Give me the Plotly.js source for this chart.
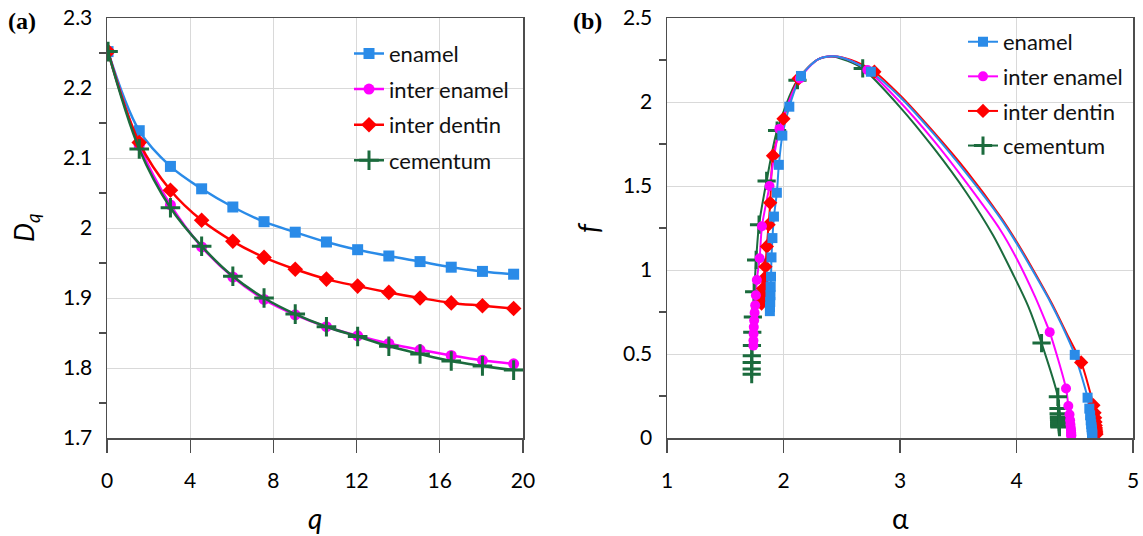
<!DOCTYPE html>
<html><head><meta charset="utf-8">
<script src="https://cdn.plot.ly/plotly-3.0.1.min.js"></script>
<style>html,body{margin:0;padding:0;background:#fff}#chart{width:1143px;height:536px}</style>
</head><body><div id="chart"></div>
<script>
// ---------- data: panel (a) generalized dimensions ----------
const seriesNames = ['enamel', 'inter enamel', 'inter dentin', 'cementum'];
const q = [0.05, 1.55, 3.05, 4.55, 6.05, 7.55, 9.05, 10.55, 12.05, 13.55, 15.05, 16.55, 18.05, 19.55];
const enamelDq      = [2.252, 2.139, 2.088, 2.056, 2.030, 2.009, 1.994, 1.980, 1.969, 1.960, 1.952, 1.944, 1.938, 1.934];
const interEnamelDq = [2.252, 2.118, 2.033, 1.973, 1.930, 1.898, 1.876, 1.859, 1.846, 1.835, 1.826, 1.818, 1.811, 1.806];
const interDentinDq = [2.252, 2.122, 2.054, 2.011, 1.981, 1.958, 1.941, 1.927, 1.917, 1.908, 1.900, 1.893, 1.889, 1.885];
const cementumDq    = [2.252, 2.113, 2.029, 1.974, 1.931, 1.900, 1.877, 1.859, 1.845, 1.831, 1.820, 1.810, 1.803, 1.797];

// ---------- data: panel (b) multifractal spectra (marker points) ----------
const enamelAlpha = [1.883,1.884,1.886,1.888,1.890,1.893,1.897,1.905,1.918,1.943,1.960,1.990,2.050,2.150,2.750,4.500,4.610,4.625,4.632,4.637,4.641,4.644,4.646,4.648,4.649,4.650,4.650];
const enamelF     = [0.755,0.780,0.810,0.850,0.900,0.960,1.075,1.190,1.318,1.460,1.626,1.800,1.972,2.155,2.180,0.495,0.240,0.175,0.135,0.105,0.082,0.064,0.050,0.039,0.030,0.023,0.017];
const interEnamelAlpha = [1.741,1.742,1.743,1.745,1.748,1.752,1.757,1.763,1.771,1.795,1.815,1.880,1.965,2.140,2.720,4.285,4.425,4.445,4.455,4.460,4.463,4.466,4.468,4.469,4.470,4.470,4.470];
const interEnamelF     = [0.550,0.580,0.620,0.660,0.700,0.745,0.790,0.850,0.940,1.070,1.260,1.500,1.840,2.140,2.190,0.630,0.295,0.190,0.140,0.105,0.080,0.060,0.045,0.033,0.024,0.017,0.012];
const interDentinAlpha = [1.812,1.815,1.820,1.825,1.835,1.845,1.857,1.872,1.886,1.910,2.000,2.130,2.780,4.555,4.660,4.670,4.675,4.678,4.680,4.682,4.683,4.684,4.685,4.686];
const interDentinF     = [0.800,0.825,0.855,0.890,0.950,1.020,1.140,1.270,1.400,1.680,1.900,2.140,2.180,0.450,0.195,0.150,0.120,0.095,0.075,0.060,0.047,0.037,0.030,0.023];
const cementumAlpha = [1.727,1.727,1.727,1.728,1.729,1.732,1.737,1.748,1.765,1.790,1.855,1.945,2.120,2.680,4.215,4.355,4.360,4.362,4.364,4.365,4.366,4.367,4.368,4.368,4.369,4.369];
const cementumF     = [0.380,0.410,0.450,0.490,0.550,0.630,0.720,0.870,1.060,1.270,1.530,1.830,2.130,2.200,0.565,0.245,0.175,0.145,0.125,0.110,0.097,0.087,0.080,0.074,0.069,0.065];

// ---------- data: panel (b) curve points between markers ----------
const enamelArcAlpha = [2.30,2.43,2.58,3.00,3.29,3.57,3.86,4.00,4.14,4.29,4.39];
const enamelArcF     = [2.255,2.272,2.245,2.030,1.810,1.575,1.310,1.160,0.995,0.810,0.670];
const interEnamelArcAlpha = [2.30,2.43,2.58,3.00,3.29,3.57,3.86,4.00,4.16,4.245];
const interEnamelArcF     = [2.255,2.272,2.245,2.000,1.770,1.520,1.240,1.070,0.840,0.700];
const interDentinArcAlpha = [2.30,2.43,2.58,3.00,3.29,3.57,3.86,4.00,4.14,4.30,4.45];
const interDentinArcF     = [2.255,2.272,2.250,2.040,1.820,1.590,1.320,1.170,1.005,0.805,0.595];
const cementumArcAlpha = [2.30,2.43,2.55,3.00,3.29,3.57,3.80,3.97,4.10];
const cementumArcF     = [2.255,2.270,2.245,1.970,1.725,1.460,1.205,0.975,0.785];

// ---------- styles ----------
const colors = ['#2A8BE8', '#FF00FF', '#FF0000', '#1B6B3D'];
const symbols = ['square', 'circle', 'diamond', 'cross-thin'];
const FONT = 'Lato, "Open Sans", sans-serif';
const W = 1143, H = 536, TOP = 18, BOTTOM = 438;

function markerStyle(i, big) {
  const m = {color: colors[i], symbol: symbols[i], size: big ? 11 : 10};
  if (symbols[i] === 'cross-thin') { m.size = big ? 14 : 13; m.line = {color: colors[i], width: 3}; }
  else if (symbols[i] === 'diamond') { m.size = big ? 12 : 11; m.line = {width: 0}; }
  else { m.line = {width: 0}; }
  return m;
}

// build ordered curve path: left branch (f ascending) then right branch (f descending)
function curvePath(aM, fM, aA, fA) {
  const pts = [];
  aM.forEach((a, i) => pts.push([a, fM[i]]));
  aA.forEach((a, i) => pts.push([a, fA[i]]));
  const peak = aA[fA.indexOf(Math.max(...fA))];
  const left = pts.filter(p => p[0] < peak).sort((u, v) => u[1] - v[1]);
  const right = pts.filter(p => p[0] >= peak).sort((u, v) => v[1] - u[1]);
  const all = left.concat(right);
  return {x: all.map(p => p[0]), y: all.map(p => p[1])};
}
// isolated points (null separated) so the legend can show a line stub without drawing lines
function isolate(arr) { const out = []; arr.forEach(v => { out.push(v); out.push(null); }); return out; }

const traces = [];
// panel (a)
const dqSeries = [enamelDq, interEnamelDq, interDentinDq, cementumDq];
dqSeries.forEach((ys, i) => {
  traces.push({
    x: q, y: ys, name: seriesNames[i], type: 'scatter', mode: 'lines+markers',
    line: {color: colors[i], width: 2.5, shape: 'spline', smoothing: 1},
    marker: markerStyle(i, true), xaxis: 'x', yaxis: 'y',
    legend: 'legend', legendgroup: 'a' + i, legendrank: i + 1
  });
});
// panel (b)
const specM = [[enamelAlpha, enamelF], [interEnamelAlpha, interEnamelF], [interDentinAlpha, interDentinF], [cementumAlpha, cementumF]];
const specA = [[enamelArcAlpha, enamelArcF], [interEnamelArcAlpha, interEnamelArcF], [interDentinArcAlpha, interDentinArcF], [cementumArcAlpha, cementumArcF]];
const drawOrder = [3, 2, 1, 0];
drawOrder.forEach(i => {
  const p = curvePath(specM[i][0], specM[i][1], specA[i][0], specA[i][1]);
  traces.push({
    x: p.x, y: p.y, type: 'scatter', mode: 'lines', showlegend: false, hoverinfo: 'skip',
    line: {color: colors[i], width: 2, shape: 'spline', smoothing: 0.8},
    xaxis: 'x2', yaxis: 'y2', legend: 'legend2', legendgroup: 'b' + i, legendrank: i + 1
  });
});
drawOrder.forEach(i => {
  traces.push({
    x: isolate(specM[i][0]), y: isolate(specM[i][1]), name: seriesNames[i], type: 'scatter',
    mode: 'lines+markers', connectgaps: false,
    line: {color: colors[i], width: 2},
    marker: markerStyle(i, false),
    xaxis: 'x2', yaxis: 'y2', legend: 'legend2', legendgroup: 'b' + i, legendrank: i + 1
  });
});

const axisLine = '#4d4d4d';
const common = {
  showgrid: true, gridcolor: '#d9d9d9', gridwidth: 1, zeroline: false,
  showline: true, linecolor: axisLine, linewidth: 1.5, mirror: true,
  tickfont: {family: FONT, size: 21, color: '#000'}, fixedrange: true
};
const xCommon = Object.assign({}, common, {ticks: 'outside', ticklen: 13, tickcolor: axisLine, tickwidth: 1.2, ticklabelstandoff: 10});
const yCommon = Object.assign({}, common, {ticks: '', ticklabelstandoff: 9});

const layout = {
  width: W, height: H,
  margin: {l: 0, r: 0, t: TOP, b: H - BOTTOM},
  paper_bgcolor: '#fff', plot_bgcolor: '#fff',
  xaxis: Object.assign({}, xCommon, {domain: [107 / W, 523 / W], range: [0, 20], tick0: 0, dtick: 4, anchor: 'y'}),
  yaxis: Object.assign({}, yCommon, {range: [1.7, 2.3], tick0: 1.7, dtick: 0.1, anchor: 'x',
    minor: {dtick: 0.05, tick0: 1.7, ticks: 'outside', ticklen: 7, tickcolor: axisLine, tickwidth: 1.2, showgrid: false}}),
  xaxis2: Object.assign({}, xCommon, {domain: [667 / W, 1133 / W], range: [1, 5], tick0: 1, dtick: 1, anchor: 'y2'}),
  yaxis2: Object.assign({}, yCommon, {range: [0, 2.5], tick0: 0, dtick: 0.5, anchor: 'x2',
    minor: {dtick: 0.25, tick0: 0, ticks: 'outside', ticklen: 7, tickcolor: axisLine, tickwidth: 1.2, showgrid: false}}),
  legend: {x: 349 / W, xanchor: 'left', y: 0.965, yanchor: 'top', bgcolor: 'rgba(0,0,0,0)',
    font: {family: FONT, size: 22, color: '#111'}, tracegroupgap: 4, traceorder: 'grouped'},
  legend2: {x: 963 / W, xanchor: 'left', y: 0.993, yanchor: 'top', bgcolor: 'rgba(0,0,0,0)',
    font: {family: FONT, size: 22, color: '#111'}, tracegroupgap: 3, traceorder: 'grouped'},
  annotations: [
    {text: '<b>(a)</b>', xref: 'paper', yref: 'paper', x: 22 / W, y: 0.993, xanchor: 'center', yanchor: 'middle', showarrow: false,
      font: {family: '"Liberation Serif", "DejaVu Serif", serif', size: 24, color: '#000'}},
    {text: '<b>(b)</b>', xref: 'paper', yref: 'paper', x: 587 / W, y: 0.993, xanchor: 'center', yanchor: 'middle', showarrow: false,
      font: {family: '"Liberation Serif", "DejaVu Serif", serif', size: 24, color: '#000'}},
    {text: '<i>D<sub>q</sub></i>', xref: 'paper', yref: 'paper', x: 25 / W, y: 0.5, xanchor: 'center', yanchor: 'middle', textangle: -90, showarrow: false,
      font: {family: FONT, size: 27, color: '#000'}},
    {text: '<i>q</i>', xref: 'paper', yref: 'paper', x: 315 / W, y: (BOTTOM - 518) / (BOTTOM - TOP), xanchor: 'center', yanchor: 'middle', showarrow: false,
      font: {family: FONT, size: 28, color: '#000'}},
    {text: '<i>f</i>', xref: 'paper', yref: 'paper', x: 588 / W, y: 0.5, xanchor: 'center', yanchor: 'middle', textangle: -90, showarrow: false,
      font: {family: FONT, size: 28, color: '#000'}},
    {text: 'α', xref: 'paper', yref: 'paper', x: 900 / W, y: (BOTTOM - 518) / (BOTTOM - TOP), xanchor: 'center', yanchor: 'middle', showarrow: false,
      font: {family: FONT, size: 28, color: '#000'}}
  ],
  showlegend: true
};

Plotly.newPlot('chart', traces, layout, {displayModeBar: false, staticPlot: true});
</script>
</body></html>
